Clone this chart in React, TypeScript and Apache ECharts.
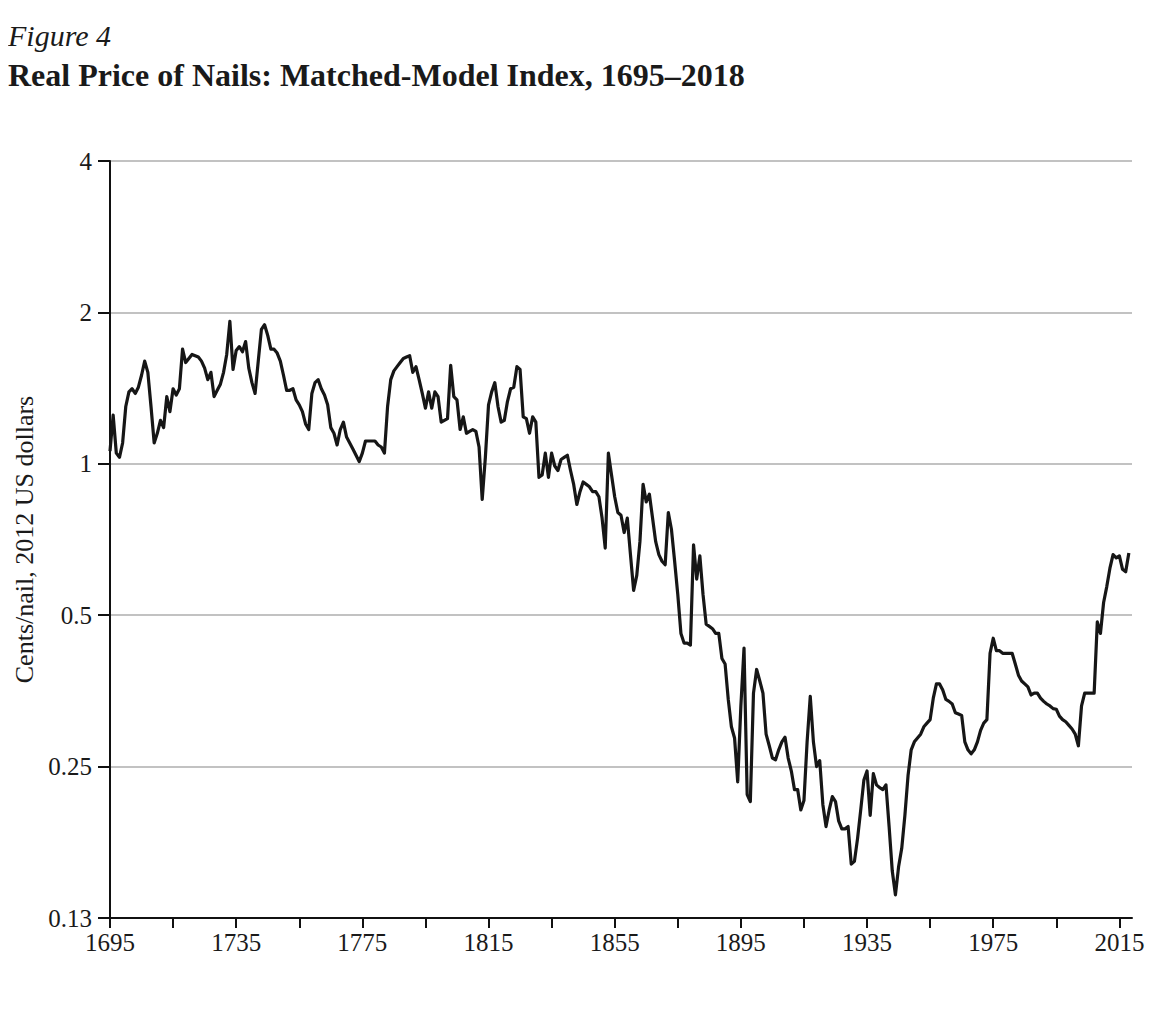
import React, { useEffect, useRef } from "react";
import * as echarts from "echarts";

const startYear = 1695;
const endYear = 2018;

// Real price of nails, cents/nail (2012 US dollars), one value per year from 1695
const price1690s = [1.06, 1.25, 1.05, 1.03, 1.1];
const price1700s = [1.3, 1.39, 1.41, 1.38, 1.42, 1.5, 1.6, 1.52, 1.3, 1.1];
const price1710s = [1.15, 1.22, 1.18, 1.36, 1.27, 1.41, 1.37, 1.41, 1.69, 1.59];
const price1720s = [1.62, 1.65, 1.64, 1.63, 1.6, 1.55, 1.47, 1.52, 1.36, 1.4];
const price1730s = [1.44, 1.52, 1.65, 1.92, 1.54, 1.68, 1.71, 1.67, 1.75, 1.55];
const price1740s = [1.45, 1.38, 1.6, 1.85, 1.89, 1.8, 1.69, 1.69, 1.66, 1.6];
const price1750s = [1.5, 1.4, 1.4, 1.41, 1.34, 1.31, 1.27, 1.2, 1.17, 1.38];
const price1760s = [1.45, 1.47, 1.41, 1.37, 1.31, 1.18, 1.15, 1.09, 1.17, 1.21];
const price1770s = [1.13, 1.1, 1.07, 1.04, 1.01, 1.05, 1.11, 1.11, 1.11, 1.11];
const price1780s = [1.09, 1.08, 1.05, 1.3, 1.47, 1.53, 1.56, 1.59, 1.62, 1.63];
const price1790s = [1.64, 1.52, 1.56, 1.47, 1.38, 1.29, 1.39, 1.29, 1.39, 1.36];
const price1800s = [1.21, 1.22, 1.23, 1.57, 1.36, 1.34, 1.17, 1.24, 1.15, 1.16];
const price1810s = [1.17, 1.16, 1.08, 0.85, 1.03, 1.31, 1.39, 1.45, 1.3, 1.21];
const price1820s = [1.22, 1.33, 1.41, 1.42, 1.56, 1.54, 1.24, 1.23, 1.15, 1.24];
const price1830s = [1.21, 0.94, 0.95, 1.05, 0.94, 1.05, 0.99, 0.97, 1.02, 1.03];
const price1840s = [1.04, 0.97, 0.91, 0.83, 0.88, 0.92, 0.91, 0.9, 0.88, 0.88];
const price1850s = [0.86, 0.78, 0.68, 1.05, 0.95, 0.86, 0.8, 0.79, 0.73, 0.78];
const price1860s = [0.66, 0.56, 0.6, 0.7, 0.91, 0.84, 0.87, 0.78, 0.7, 0.66];
const price1870s = [0.64, 0.63, 0.8, 0.74, 0.64, 0.55, 0.46, 0.44, 0.44, 0.436];
const price1880s = [0.69, 0.59, 0.656, 0.55, 0.48, 0.475, 0.47, 0.46, 0.46, 0.41];
const price1890s = [0.4, 0.34, 0.3, 0.285, 0.233, 0.33, 0.43, 0.22, 0.213, 0.35];
const price1900s = [0.39, 0.37, 0.35, 0.29, 0.275, 0.26, 0.258, 0.27, 0.28, 0.286];
const price1910s = [0.26, 0.245, 0.225, 0.225, 0.205, 0.214, 0.28, 0.345, 0.28, 0.25];
const price1920s = [0.257, 0.21, 0.19, 0.205, 0.218, 0.213, 0.195, 0.188, 0.188, 0.19];
const price1930s = [0.16, 0.162, 0.18, 0.205, 0.235, 0.245, 0.2, 0.242, 0.23, 0.227];
const price1940s = [0.225, 0.23, 0.19, 0.155, 0.139, 0.158, 0.172, 0.2, 0.24, 0.27];
const price1950s = [0.28, 0.285, 0.29, 0.3, 0.305, 0.31, 0.342, 0.365, 0.365, 0.355];
const price1960s = [0.34, 0.337, 0.333, 0.32, 0.318, 0.316, 0.28, 0.27, 0.265, 0.27];
const price1970s = [0.28, 0.295, 0.305, 0.31, 0.42, 0.45, 0.425, 0.425, 0.42, 0.42];
const price1980s = [0.42, 0.42, 0.4, 0.38, 0.37, 0.365, 0.36, 0.347, 0.35, 0.35];
const price1990s = [0.342, 0.337, 0.333, 0.33, 0.326, 0.325, 0.315, 0.31, 0.307, 0.302];
const price2000s = [0.297, 0.29, 0.275, 0.33, 0.35, 0.35, 0.35, 0.35, 0.485, 0.46];
const price2010s = [0.53, 0.57, 0.62, 0.66, 0.65, 0.656, 0.617, 0.61, 0.665];

const xTickYears = [1695, 1715, 1735, 1755, 1775, 1795, 1815, 1835, 1855, 1875, 1895, 1915, 1935, 1955, 1975, 1995, 2015];
const xLabelYears = [1695, 1735, 1775, 1815, 1855, 1895, 1935, 1975, 2015];
const yTickValues = [0.125, 0.25, 0.5, 1, 2, 4];
const yTickLabels = ["0.13", "0.25", "0.5", "1", "2", "4"];

const figureLabel = "Figure 4";
const chartTitle = "Real Price of Nails: Matched-Model Index, 1695–2018";
const yAxisTitle = "Cents/nail, 2012 US dollars";

const allPrices = [
  ...price1690s, ...price1700s, ...price1710s, ...price1720s, ...price1730s,
  ...price1740s, ...price1750s, ...price1760s, ...price1770s, ...price1780s,
  ...price1790s, ...price1800s, ...price1810s, ...price1820s, ...price1830s,
  ...price1840s, ...price1850s, ...price1860s, ...price1870s, ...price1880s,
  ...price1890s, ...price1900s, ...price1910s, ...price1920s, ...price1930s,
  ...price1940s, ...price1950s, ...price1960s, ...price1970s, ...price1980s,
  ...price1990s, ...price2000s, ...price2010s,
];

const FONT = "'Liberation Serif', 'DejaVu Serif', serif";

export default function App() {
  const ref = useRef<HTMLDivElement>(null);

  useEffect(() => {
    if (!ref.current) return;
    const chart = echarts.init(ref.current, undefined, { renderer: "svg" });
    const seriesData = allPrices.map((v, i) => [startYear + i, v]);

    chart.setOption({
      animation: false,
      backgroundColor: "#ffffff",
      textStyle: { fontFamily: FONT },
      title: [
        {
          text: figureLabel,
          left: 0,
          top: 12,
          padding: 0,
          textStyle: { fontFamily: FONT, fontStyle: "italic", fontWeight: "normal", fontSize: 30, color: "#1a1a1a" },
        },
        {
          text: chartTitle,
          left: 0,
          top: 51,
          padding: 0,
          textStyle: { fontFamily: FONT, fontWeight: "bold", fontSize: 32, color: "#1a1a1a" },
        },
      ],
      grid: { left: 102, right: 28, top: 153, bottom: 80, containLabel: false, outerBoundsMode: "none" },
      xAxis: {
        type: "value",
        min: startYear,
        max: endYear + 1,
        axisLine: { show: true, onZero: false, lineStyle: { color: "#111", width: 2 } },
        axisTick: { show: true, length: 10, lineStyle: { color: "#111", width: 2 }, customValues: xTickYears },
        axisLabel: {
          customValues: xLabelYears,
          fontFamily: FONT,
          fontSize: 25,
          color: "#1a1a1a",
          margin: 12,
          formatter: (v: number) => String(v),
        },
        splitLine: { show: false },
      },
      yAxis: {
        type: "log",
        logBase: 2,
        min: yTickValues[0],
        max: yTickValues[yTickValues.length - 1],
        name: yAxisTitle,
        nameLocation: "middle",
        nameGap: 72,
        nameTextStyle: { fontFamily: FONT, fontSize: 26, color: "#1a1a1a" },
        axisLine: { show: true, lineStyle: { color: "#111", width: 2 } },
        axisTick: { show: true, length: 12, lineStyle: { color: "#111", width: 2 }, customValues: yTickValues },
        axisLabel: {
          customValues: yTickValues,
          fontFamily: FONT,
          fontSize: 25,
          color: "#1a1a1a",
          margin: 18,
          formatter: (v: number) => {
            const idx = yTickValues.findIndex((t) => Math.abs(t - v) < 1e-6);
            return idx >= 0 ? yTickLabels[idx] : "";
          },
        },
        splitLine: { show: true, lineStyle: { color: "#c2c2c2", width: 2 } },
      },
      series: [
        {
          type: "line",
          data: seriesData,
          showSymbol: false,
          symbol: "none",
          lineStyle: { color: "#161616", width: 3.2, join: "round" },
          clip: false,
        },
      ],
    });

    return () => chart.dispose();
  }, []);

  return <div ref={ref} style={{ width: 1152, height: 990 }} />;
}
